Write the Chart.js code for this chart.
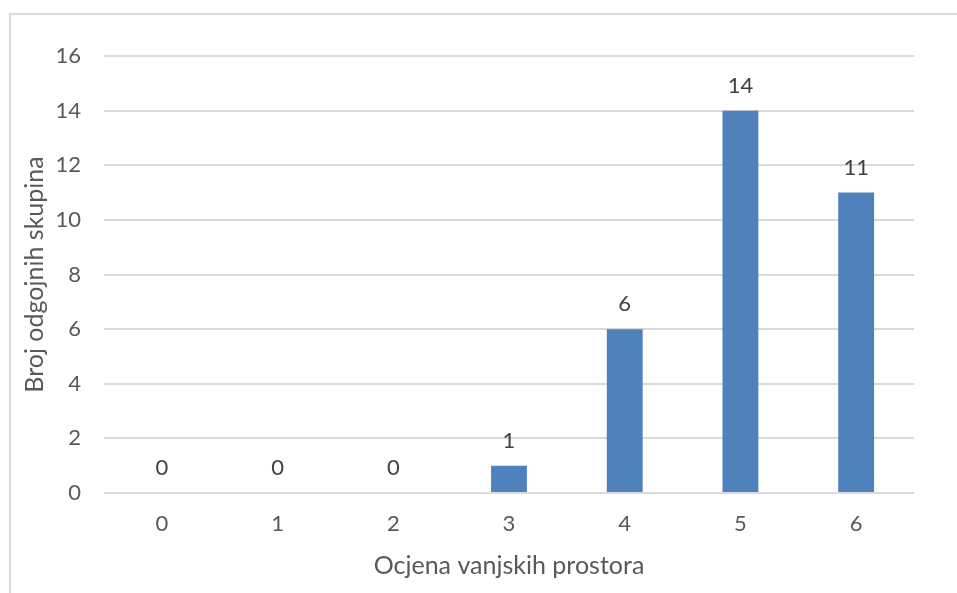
<!DOCTYPE html>
<html>
<head>
<meta charset="utf-8">
<script src="https://cdn.jsdelivr.net/npm/chart.js@4/dist/chart.umd.min.js"></script>
<style>
  html, body { margin: 0; padding: 0; background: #fff; }
  #wrap { position: relative; width: 957px; height: 593px; overflow: hidden; }
  #frame { position: absolute; left: 9px; top: 13px; width: 1000px; height: 700px;
           border-top: 2px solid #d9d9d9; border-left: 2px solid #d9d9d9; box-sizing: border-box; }
  canvas { position: absolute; left: 0; top: 0; }
</style>
</head>
<body>
<div id="wrap">
  <div id="frame"></div>
  <canvas id="chart" width="957" height="593"></canvas>
</div>
<script>
  // podaci
  const categories = ['0', '1', '2', '3', '4', '5', '6'];
  const counts = [0, 0, 0, 1, 6, 14, 11];
  const yTicks = [0, 2, 4, 6, 8, 10, 12, 14, 16];

  const textColor = '#595959';
  const fontFam = 'Lato, "Open Sans", sans-serif';

  // vrijednosti iznad stupaca
  const valueLabels = {
    id: 'valueLabels',
    afterDatasetsDraw(chart) {
      const ctx = chart.ctx;
      const meta = chart.getDatasetMeta(0);
      ctx.save();
      ctx.fillStyle = '#404040';
      ctx.font = '22px ' + fontFam;
      ctx.textAlign = 'center';
      ctx.textBaseline = 'middle';
      meta.data.forEach((bar, i) => {
        ctx.fillText(String(counts[i]), bar.x, bar.y - 25);
      });
      ctx.restore();
    }
  };

  new Chart(document.getElementById('chart'), {
    type: 'bar',
    data: {
      labels: categories,
      datasets: [{
        data: counts,
        backgroundColor: '#4f81bd',
        borderWidth: 0,
        barPercentage: 0.31,
        categoryPercentage: 1
      }]
    },
    options: {
      responsive: false,
      animation: false,
      layout: { padding: { left: 20, right: 43, top: 56, bottom: 0 } },
      plugins: { legend: { display: false }, tooltip: { enabled: false } },
      scales: {
        x: {
          grid: { display: false },
          border: { display: false },
          ticks: { color: textColor, font: { family: fontFam, size: 22 }, padding: 10 },
          title: { display: true, text: 'Ocjena vanjskih prostora', color: textColor,
                   font: { family: fontFam, size: 25 }, padding: { top: 0, bottom: 12 } },
          afterFit: s => { s.height = 100; }
        },
        y: {
          min: 0, max: 16,
          afterBuildTicks: s => { s.ticks = yTicks.map(v => ({ value: v })); },
          grid: { color: '#d9d9d9', lineWidth: 2, drawTicks: false },
          border: { display: false },
          ticks: { color: textColor, font: { family: fontFam, size: 22 }, padding: 23 },
          title: { display: true, text: 'Broj odgojnih skupina', color: textColor,
                   font: { family: fontFam, size: 25 }, padding: { top: 0, bottom: 0 } },
          afterFit: s => { s.width = 84; }
        }
      }
    },
    plugins: [valueLabels]
  });
</script>
</body>
</html>
